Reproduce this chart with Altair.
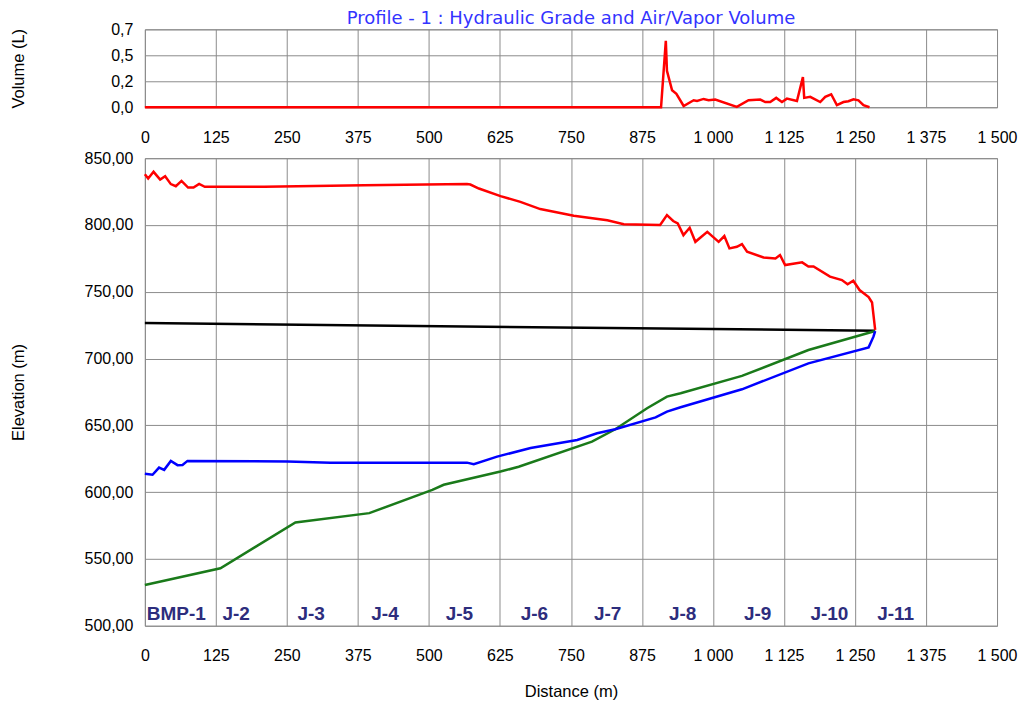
import altair as alt
import pandas as pd

# ---------------- data ----------------
ticks_x = [0, 125, 250, 375, 500, 625, 750, 875, 1000, 1125, 1250, 1375, 1500]
ticks_elev = [500, 550, 600, 650, 700, 750, 800, 850]
ticks_vol = [0, 0.25, 0.5, 0.75]

red_dist = [0, 5.8, 15.3, 26.9, 35.7, 45.7, 54.5, 64.5, 76.1, 85.6,
            95.5, 105.5, 210, 386, 567, 573, 588, 626, 661, 696,
            755, 814, 843, 907, 919, 930, 938, 948, 959, 969,
            990, 1010, 1020, 1029, 1042, 1051, 1060, 1089, 1110, 1118,
            1127, 1157, 1168, 1177, 1206, 1227, 1237, 1247, 1258, 1274,
            1280, 1285.5]
red_elev = [838, 834.8, 839.8, 834, 836.5, 830.6, 829, 833, 828, 828,
            830.8, 828.6, 828.6, 829.8, 830.6, 830.3, 827.3, 821.6, 817.3, 811.9,
            806.9, 803.6, 800.6, 800, 807.4, 803, 801.2, 792.4, 797.9, 787.4,
            794.9, 787.4, 791.7, 782.5, 783.7, 785.7, 780, 775.7, 775, 777.5,
            770, 772, 768.9, 768.9, 761.3, 758.8, 755.6, 758.3, 751.3, 746,
            742, 721.4]

blue_dist = [0, 13.5, 25, 34, 45.7, 57.5, 66.3, 75, 251, 327,
             567, 579, 620, 679, 761, 796, 828, 899, 919, 943,
             1051, 1168, 1274, 1282.5, 1285.5]
blue_elev = [613.7, 613, 618.4, 616.7, 623.4, 620.2, 620.4, 623.4, 623, 622.1,
             622.1, 621, 626.6, 633, 639.1, 644.1, 647.1, 656, 660.3, 663.6,
             677, 696.4, 708.4, 716.4, 720.6]

green_dist = [0, 133, 265, 395, 506, 526, 626, 658, 787, 828, 884, 919, 943,
              1051, 1168, 1285.5]
green_elev = [530.5, 543, 577.3, 584.3, 601.7, 605.5, 615.4, 619, 637.8, 647.1,
              662.8, 671.5, 674, 687, 706.4, 720.6]

black_dist = [0, 1285.5]
black_elev = [726.6, 720.8]

vol_dist = [0, 908.6, 917, 919, 928, 935.6, 948.4, 966, 972, 983.5,
            992.3, 1004, 1042, 1062.6, 1083.2, 1092, 1100.8, 1111.3, 1121.4, 1130.2,
            1147.8, 1158.3, 1160.6, 1171.2, 1188.8, 1197.6, 1208.1, 1218.1, 1229.7, 1238.5,
            1247.3, 1256.1, 1264.9, 1275.5]
vol_val = [0, 0, 0.64, 0.35, 0.163, 0.13, 0.012, 0.067, 0.06, 0.08,
           0.067, 0.074, 0.003, 0.067, 0.074, 0.05, 0.05, 0.09, 0.05, 0.083,
           0.06, 0.29, 0.09, 0.1, 0.05, 0.1, 0.125, 0.02, 0.05, 0.058,
           0.077, 0.067, 0.02, 0.0]

junction_names = ["BMP-1", "J-2", "J-3", "J-4", "J-5", "J-6", "J-7", "J-8",
                  "J-9", "J-10", "J-11"]
junction_dist = [0, 133, 265, 395, 526, 658, 787, 919, 1051, 1168, 1285.5]

# ---------------- styling ----------------
FONT = "Liberation Sans"
GRID = "#8c8c8c"
W = 853
TICK_FS = 16
TITLE_FS = 16.5


def frame(d, v):
    return pd.DataFrame({"dist": d, "val": v, "idx": list(range(len(d)))})


x_axis_kw = dict(
    values=ticks_x,
    labelExpr="replace(format(datum.value, ','), ',', ' ')",
    tickSize=0, domain=False, grid=True, gridColor=GRID, gridOpacity=1,
    gridWidth=1, labelFontSize=TICK_FS, labelFont=FONT, labelColor="#000000",
    labelPadding=22, labelFlush=False,
)
xscale = alt.Scale(domain=[0, 1500], nice=False, zero=False)

# ---------------- top chart: volume ----------------
vol_y_axis = alt.Axis(
    values=ticks_vol,
    labelExpr="replace(format(floor(datum.value * 10) / 10, '.1f'), '.', ',')",
    tickSize=0, domain=False, grid=True, gridColor=GRID, gridOpacity=1,
    labelFontSize=TICK_FS, labelFont=FONT, labelColor="#000000", labelPadding=12,
    title="Volume (L)", titleFont=FONT, titleFontSize=TITLE_FS, titleFontWeight="normal",
    titleColor="#000000", titleX=-126, titleY=39, titleBaseline="middle",
    titleAlign="center", titleAngle=270,
)

top = alt.Chart(frame(vol_dist, vol_val)).mark_line(
    color="#ff0000", strokeWidth=2.5
).encode(
    x=alt.X("dist:Q", scale=xscale, axis=alt.Axis(title=None, **x_axis_kw)),
    y=alt.Y("val:Q", scale=alt.Scale(domain=[0, 0.75], nice=False), axis=vol_y_axis),
    order="idx:Q",
).properties(
    width=W, height=78,
    title=alt.TitleParams(
        "Profile - 1 : Hydraulic Grade and Air/Vapor Volume",
        color="#3333ff", fontSize=18, fontWeight="normal", font="DejaVu Sans",
        anchor="middle", offset=-7,
    ),
)

# ---------------- bottom chart: elevation profile ----------------
elev_y_axis = alt.Axis(
    values=ticks_elev,
    labelExpr="replace(format(datum.value, '.2f'), '.', ',')",
    tickSize=0, domain=False, grid=True, gridColor=GRID, gridOpacity=1,
    labelFontSize=TICK_FS, labelFont=FONT, labelColor="#000000", labelPadding=12,
    title="Elevation (m)", titleFont=FONT, titleFontSize=TITLE_FS, titleFontWeight="normal",
    titleColor="#000000", titleX=-126, titleY=234, titleBaseline="middle",
    titleAlign="center", titleAngle=270,
)
yscale = alt.Scale(domain=[500, 850], nice=False, zero=False)

bx = alt.X("dist:Q", scale=xscale,
           axis=alt.Axis(title="Distance (m)", titleFont=FONT, titleFontSize=TITLE_FS,
                         titleFontWeight="normal", titleColor="#000000",
                         titlePadding=20, **x_axis_kw))
by = alt.Y("val:Q", scale=yscale, axis=elev_y_axis)


def profile_line(d, v, color):
    return alt.Chart(frame(d, v)).mark_line(color=color, strokeWidth=2.5).encode(
        x=bx, y=by, order="idx:Q"
    )


labels = alt.Chart(pd.DataFrame({"name": junction_names, "dist": junction_dist})).mark_text(
    align="left", baseline="middle", dx=2, dy=-12, font=FONT, fontSize=19,
    fontWeight="bold", color="#2d2d7d",
).encode(
    x=bx, y=alt.datum(500), text="name:N"
)

bottom = alt.layer(
    profile_line(black_dist, black_elev, "#000000"),
    profile_line(green_dist, green_elev, "#1a7a1a"),
    profile_line(blue_dist, blue_elev, "#0000ff"),
    profile_line(red_dist, red_elev, "#ff0000"),
    labels,
).properties(width=W, height=468)

chart = alt.vconcat(top, bottom, spacing=51, bounds="flush").properties(
    padding={"left": 2, "top": 1, "right": 5, "bottom": 5}
).configure_view(stroke=GRID, strokeWidth=1)

chart.save("out.html", embed_options={"renderer": "svg", "actions": False})
